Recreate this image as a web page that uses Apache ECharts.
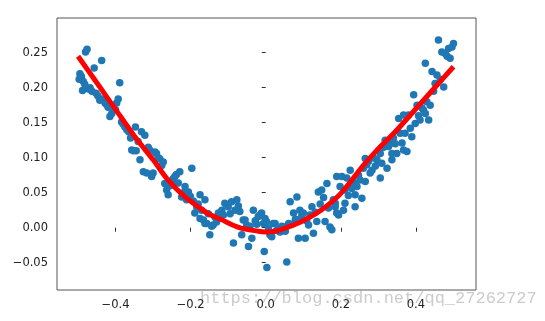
<!DOCTYPE html>
<html>
<head>
<meta charset="utf-8">
<script src="https://cdn.jsdelivr.net/npm/echarts@6/dist/echarts.min.js"></script>
<style>
  html, body { margin: 0; padding: 0; background: #fff; }
  #main { width: 545px; height: 321px; }
</style>
</head>
<body>
<div id="main"></div>
<script>
// 散点数据 (x, y)
var scatterPts = [
  [-0.497,0.212],[-0.495,0.220],[-0.491,0.216],[-0.488,0.196],[-0.486,0.209],[-0.482,0.205],[-0.480,0.251],[-0.476,0.255],
  [-0.472,0.198],[-0.468,0.200],[-0.463,0.195],[-0.457,0.228],[-0.452,0.192],[-0.447,0.188],[-0.442,0.182],[-0.437,0.239],
  [-0.433,0.184],[-0.428,0.178],[-0.424,0.176],[-0.420,0.172],[-0.415,0.159],[-0.410,0.163],[-0.405,0.170],[-0.400,0.168],
  [-0.397,0.178],[-0.393,0.184],[-0.389,0.207],[-0.384,0.151],[-0.380,0.148],[-0.375,0.144],[-0.370,0.140],[-0.365,0.137],
  [-0.360,0.128],[-0.357,0.111],[-0.352,0.110],[-0.347,0.144],[-0.345,0.110],[-0.340,0.123],[-0.335,0.097],[-0.331,0.137],
  [-0.326,0.080],[-0.322,0.132],[-0.317,0.078],[-0.313,0.115],[-0.309,0.111],[-0.304,0.073],[-0.300,0.078],[-0.295,0.108],
  [-0.291,0.106],[-0.286,0.100],[-0.282,0.098],[-0.277,0.089],[-0.273,0.094],[-0.269,0.063],[-0.264,0.054],[-0.260,0.047],
  [-0.255,0.060],[-0.251,0.066],[-0.247,0.070],[-0.242,0.073],[-0.238,0.076],[-0.233,0.064],[-0.229,0.080],[-0.224,0.044],
  [-0.220,0.050],[-0.215,0.059],[-0.211,0.040],[-0.206,0.051],[-0.201,0.045],[-0.197,0.085],[-0.193,0.038],[-0.189,0.021],
  [-0.184,0.030],[-0.180,0.034],[-0.175,0.047],[-0.175,0.013],[-0.171,0.025],[-0.166,0.011],[-0.162,0.040],[-0.162,0.006],
  [-0.157,0.006],[-0.153,0.020],[-0.149,-0.010],[-0.144,0.002],[-0.140,0.004],[-0.135,0.015],[-0.131,0.008],[-0.126,0.021],
  [-0.122,0.014],[-0.117,0.025],[-0.113,0.018],[-0.109,0.035],[-0.104,0.033],[-0.100,0.030],[-0.095,0.020],[-0.091,0.037],
  [-0.086,-0.022],[-0.082,0.025],[-0.077,0.040],[-0.073,0.031],[-0.069,0.023],[-0.064,-0.010],[-0.060,0.011],[-0.055,0.011],
  [-0.051,0.004],[-0.046,-0.027],[-0.042,0.002],[-0.037,-0.015],[-0.033,0.025],[-0.028,0.010],[-0.024,0.005],[-0.020,0.016],
  [-0.015,0.018],[-0.011,0.021],[-0.006,0.006],[-0.004,-0.034],[0.003,-0.057],[-0.002,0.013],[0.002,0.009],[0.007,0.000],
  [0.011,-0.010],[0.016,-0.013],[0.020,0.006],[0.025,0.006],[0.029,-0.004],[0.034,-0.002],[0.038,-0.006],[0.043,0.002],
  [0.047,0.001],[0.052,-0.005],[0.056,-0.049],[0.061,0.006],[0.065,0.037],[0.070,0.005],[0.074,0.021],[0.079,0.012],
  [0.083,0.044],[0.087,0.011],[0.087,-0.015],[0.091,0.025],[0.096,0.017],[0.100,0.021],[0.105,-0.015],[0.109,0.010],
  [0.114,0.004],[0.118,0.018],[0.123,0.030],[0.127,-0.008],[0.132,0.022],[0.136,0.009],[0.140,0.051],[0.145,0.034],
  [0.149,0.054],[0.154,0.043],[0.158,0.009],[0.163,0.063],[0.167,0.028],[0.171,0.001],[0.176,-0.003],[0.180,0.040],
  [0.185,0.035],[0.185,0.030],[0.189,0.073],[0.189,0.021],[0.194,0.018],[0.198,0.059],[0.203,0.073],[0.207,0.025],
  [0.211,0.054],[0.211,0.035],[0.216,0.071],[0.220,0.046],[0.225,0.082],[0.229,0.056],[0.234,0.065],[0.238,0.047],
  [0.238,0.030],[0.243,0.059],[0.247,0.075],[0.251,0.068],[0.256,0.042],[0.260,0.085],[0.265,0.099],[0.265,0.066],
  [0.269,0.090],[0.274,0.095],[0.278,0.078],[0.283,0.082],[0.287,0.100],[0.292,0.088],[0.296,0.097],[0.301,0.110],
  [0.305,0.106],[0.305,0.071],[0.309,0.092],[0.314,0.115],[0.318,0.125],[0.323,0.085],[0.327,0.116],[0.331,0.120],
  [0.336,0.106],[0.336,0.097],[0.340,0.128],[0.345,0.120],[0.349,0.106],[0.354,0.156],[0.358,0.135],[0.363,0.121],
  [0.367,0.161],[0.367,0.111],[0.371,0.135],[0.376,0.109],[0.380,0.161],[0.385,0.142],[0.389,0.130],[0.394,0.190],
  [0.398,0.149],[0.403,0.175],[0.407,0.160],[0.411,0.154],[0.416,0.171],[0.420,0.168],[0.425,0.163],[0.425,0.235],
  [0.429,0.180],[0.434,0.154],[0.438,0.175],[0.443,0.223],[0.447,0.195],[0.451,0.206],[0.456,0.218],[0.460,0.268],
  [0.465,0.212],[0.469,0.251],[0.474,0.201],[0.478,0.249],[0.483,0.245],[0.487,0.256],[0.491,0.242],[0.496,0.258],
  [0.500,0.263]
];

// 红色拟合曲线
var curveX = [-0.5,-0.45,-0.4,-0.35,-0.3,-0.26,-0.215,-0.175,-0.15,-0.12,-0.07,-0.02,0,0.025,0.05,0.1,0.15,0.2,0.26,0.3,0.345,0.4,0.45,0.5];
var curveY = [0.245,0.207,0.169,0.131,0.097,0.068,0.044,0.028,0.019,0.012,0.000,-0.005,-0.006,-0.005,-0.001,0.010,0.026,0.049,0.089,0.113,0.137,0.170,0.200,0.230];

// 刻度
var xTicks = [-0.4,-0.2,0.0,0.2,0.4];
var yTicks = [-0.05,0.00,0.05,0.10,0.15,0.20,0.25];

var curveData = [];
for (var i = 0; i < curveX.length; i++) {
  curveData.push([curveX[i], curveY[i]]);
}

function fmt(v, d) {
  var s = Math.abs(v).toFixed(d);
  return (v < -1e-9 ? '\u2212' : '') + s;
}

var chart = echarts.init(document.getElementById('main'), null, {renderer: 'canvas'});
var labelStyle = {fontFamily: 'DejaVu Sans', fontSize: 11.5, color: '#222'};
var option = {
  animation: false,
  backgroundColor: '#fff',
  grid: {
    left: 57, right: 69, top: 18, bottom: 31,
    show: true, borderColor: '#555', borderWidth: 1, backgroundColor: 'transparent'
  },
  xAxis: {
    type: 'value',
    min: -0.556, max: 0.56,
    axisLine: {show: false},
    splitLine: {show: false},
    axisTick: {show: true, length: 4, lineStyle: {color: '#333'}, customValues: xTicks},
    axisLabel: Object.assign({margin: 9, customValues: xTicks, formatter: function(v){ return fmt(v, 1); }}, labelStyle)
  },
  yAxis: {
    type: 'value',
    min: -0.089, max: 0.2996,
    axisLine: {show: false},
    splitLine: {show: false},
    axisTick: {show: true, length: 4, lineStyle: {color: '#333'}, customValues: yTicks},
    axisLabel: Object.assign({margin: 9, customValues: yTicks, formatter: function(v){ return fmt(v, 2); }}, labelStyle)
  },
  graphic: [{
    type: 'text',
    left: 200, top: 290,
    z: 0,
    style: {
      text: 'https://blog.csdn.net/qq_27262727',
      font: '17px "Liberation Mono"',
      fill: 'rgba(170,170,170,0.6)'
    }
  }],
  series: [
    {
      type: 'scatter',
      data: scatterPts,
      symbolSize: 7.5,
      itemStyle: {color: '#1f77b4', opacity: 1},
      z: 2
    },
    {
      type: 'line',
      data: curveData,
      smooth: 0.3,
      showSymbol: false,
      lineStyle: {color: '#ff0000', width: 5},
      z: 3
    }
  ]
};
chart.setOption(option);
</script>
</body>
</html>
